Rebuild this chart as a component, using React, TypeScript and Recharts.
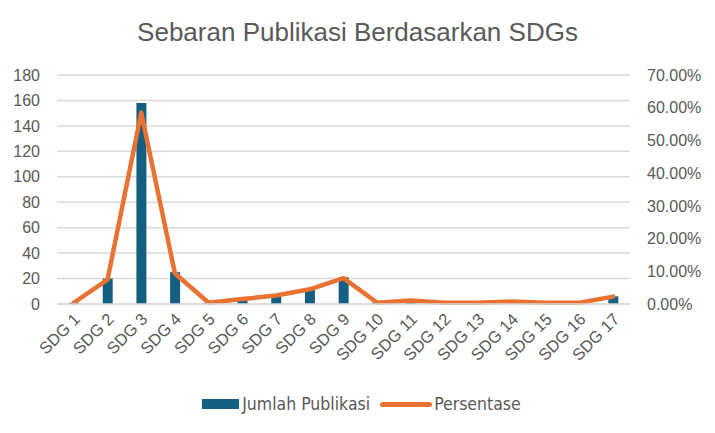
import React from "react";
import { ComposedChart, Bar, Line, XAxis, YAxis, CartesianGrid, Legend } from "recharts";

const categories = ["SDG 1","SDG 2","SDG 3","SDG 4","SDG 5","SDG 6","SDG 7","SDG 8","SDG 9","SDG 10","SDG 11","SDG 12","SDG 13","SDG 14","SDG 15","SDG 16","SDG 17"];
const jumlahPublikasi = [1, 20, 158, 25, 1, 4, 7, 12, 21, 1, 3, 1, 1, 2, 1, 1, 6];
const persentase = [0.0038, 0.0745, 0.585, 0.093, 0.0038, 0.015, 0.026, 0.045, 0.079, 0.0038, 0.011, 0.0038, 0.0038, 0.0075, 0.0038, 0.0038, 0.0225];
const leftTicks = [0, 20, 40, 60, 80, 100, 120, 140, 160, 180];
const rightTicks = [0, 0.1, 0.2, 0.3, 0.4, 0.5, 0.6, 0.7];

const data = categories.map((c, i) => ({ name: c, jumlah: jumlahPublikasi[i], persen: persentase[i] }));

const BAR = "#156082";
const LINE = "#E97132";
const TEXT = "#595959";
const FONT = "'Liberation Sans', Arial, sans-serif";

const XTick = (props: any) => {
  const { x, y, payload } = props;
  const ax = x + 3;
  const ay = y + 4;
  return (
    <text x={ax} y={ay} transform={`rotate(-45, ${ax}, ${ay})`} textAnchor="end" dominantBaseline="central" fill={TEXT} fontSize={16.5} fontFamily={FONT}>
      {payload.value}
    </text>
  );
};

const LegendContent = () => (
  <div style={{ display: "flex", justifyContent: "center", alignItems: "center", fontFamily: "'Liberation Sans Narrow', 'DejaVu Sans Condensed', 'Liberation Sans', sans-serif", fontSize: 17.5, color: TEXT, height: 24, paddingLeft: 8 }}>
    <span style={{ display: "inline-block", width: 37, height: 10, background: BAR, marginRight: 3 }} />
    <span style={{ marginRight: 10 }}>Jumlah Publikasi</span>
    <span style={{ display: "inline-block", width: 52, height: 5, borderRadius: 3, background: LINE, marginRight: 2 }} />
    <span>Persentase</span>
  </div>
);

export default function App() {
  return (
    <div style={{ position: "absolute", left: 0, top: 0, width: 715, height: 433, background: "#fff" }}>
      <div style={{ position: "absolute", left: 0, top: 17, width: 715, textAlign: "center", fontFamily: FONT, fontSize: 26, color: TEXT }}>
        Sebaran Publikasi Berdasarkan SDGs
      </div>
      <ComposedChart width={715} height={433} data={data} margin={{ top: 75, right: 0, bottom: 17, left: 0 }} barCategoryGap={0}>
        <CartesianGrid yAxisId="left" vertical={false} stroke="#D9D9D9" strokeWidth={1.5} />
        <XAxis dataKey="name" interval={0} tick={<XTick />} tickLine={false} axisLine={{ stroke: "#D9D9D9", strokeWidth: 1.5 }} height={88} />
        <YAxis yAxisId="left" domain={[0, 180]} ticks={leftTicks} width={57} axisLine={false} tickLine={false} tickSize={0} tickMargin={17} tick={{ fill: TEXT, fontSize: 16, fontFamily: FONT }} interval={0} />
        <YAxis yAxisId="right" orientation="right" domain={[0, 0.7]} ticks={rightTicks} width={85} axisLine={false} tickLine={false} tickSize={0} tickMargin={17} tick={{ fill: TEXT, fontSize: 16, fontFamily: FONT }} tickFormatter={(v: number) => `${(v * 100).toFixed(2)}%`} interval={0} />
        <Bar yAxisId="left" dataKey="jumlah" name="Jumlah Publikasi" fill={BAR} barSize={10} isAnimationActive={false} />
        <Line yAxisId="right" dataKey="persen" name="Persentase" stroke={LINE} strokeWidth={4.5} dot={false} activeDot={false} type="linear" strokeLinejoin="round" strokeLinecap="round" isAnimationActive={false} />
        <Legend verticalAlign="bottom" height={24} content={<LegendContent />} />
      </ComposedChart>
    </div>
  );
}
